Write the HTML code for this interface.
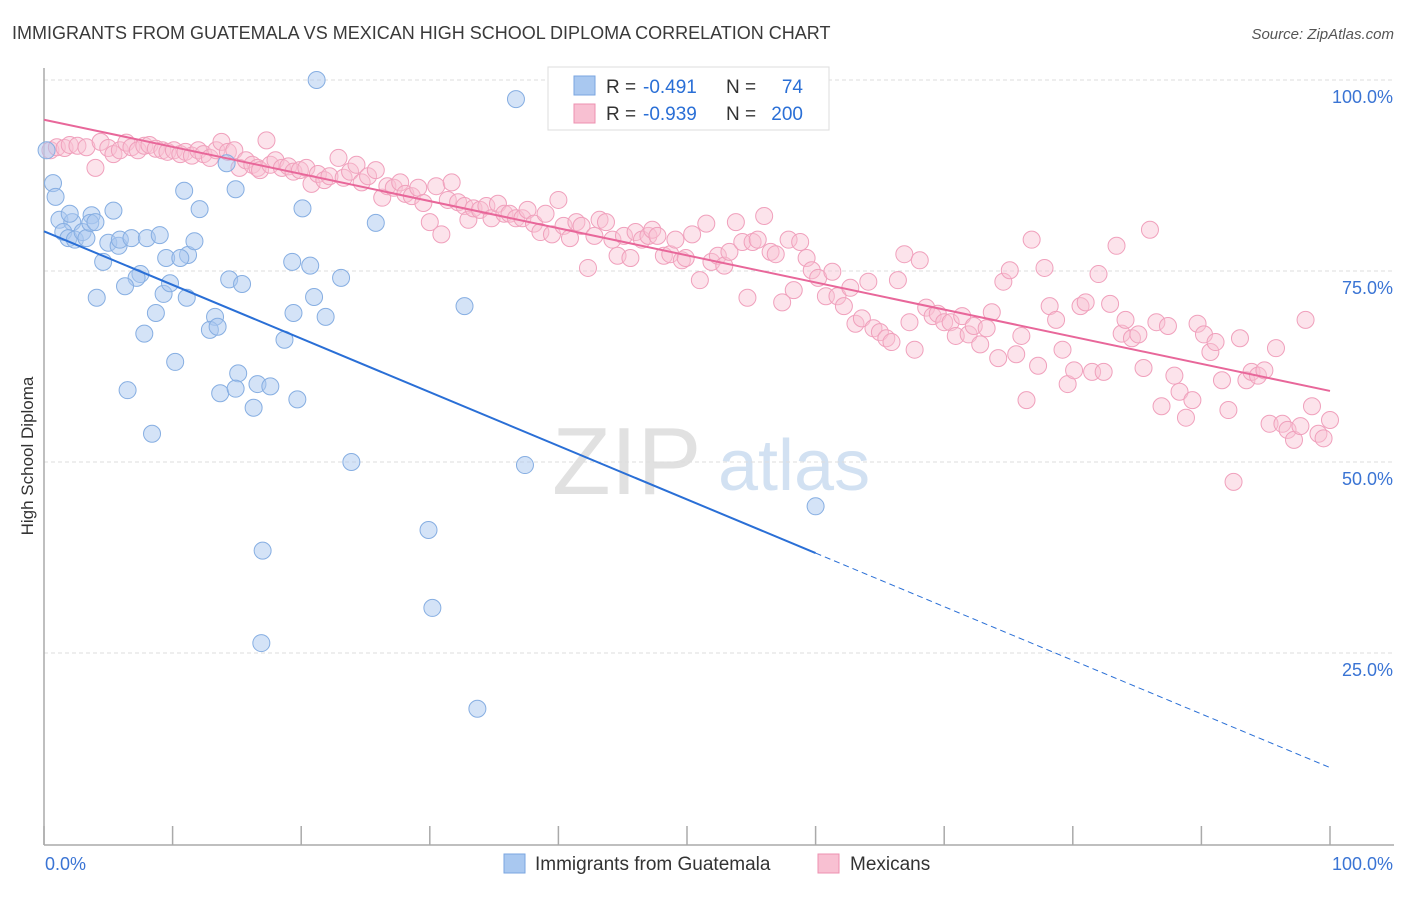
<!DOCTYPE html>
<html><head><meta charset="utf-8">
<style>
body{margin:0;background:#fff;font-family:"Liberation Sans",sans-serif;}
svg text{font-family:"Liberation Sans",sans-serif;}
</style></head>
<body>
<svg id="chart" width="1406" height="892" xmlns="http://www.w3.org/2000/svg">
<text x="12" y="39" font-size="18" fill="#3a3a3a">IMMIGRANTS FROM GUATEMALA VS MEXICAN HIGH SCHOOL DIPLOMA CORRELATION CHART</text>
<text x="1394" y="39" font-size="15" fill="#555" text-anchor="end" font-style="italic">Source: ZipAtlas.com</text>
<g>
<text x="552" y="494" font-size="96" fill="#dcdcdc" font-family="Liberation Serif" opacity="0.85">ZIP</text>
<text x="718" y="490" font-size="72" fill="#c8daf0" opacity="0.8">atlas</text>
</g>
<g id="grid"></g>
<g id="axes"></g>
<g id="pinkDots"></g>
<g id="blueDots"></g>
<g id="lines"></g>
<text transform="translate(33,456) rotate(-90)" font-size="17" fill="#333" text-anchor="middle">High School Diploma</text>
<g>
<rect x="548" y="67" width="281" height="63" fill="#fff" stroke="#ddd"/>
<rect x="574" y="76" width="21" height="19" fill="#a9c8f0" stroke="#7aa6e0"/>
<rect x="574" y="104" width="21" height="19" fill="#f8c0d2" stroke="#ee90b0"/>
<text x="606" y="93" font-size="19" fill="#333">R =</text>
<text x="643" y="93" font-size="19" fill="#2a6fd6">-0.491</text>
<text x="726" y="93" font-size="19" fill="#333">N =</text>
<text x="803" y="93" font-size="19" fill="#2a6fd6" text-anchor="end">74</text>
<text x="606" y="120" font-size="19" fill="#333">R =</text>
<text x="643" y="120" font-size="19" fill="#2a6fd6">-0.939</text>
<text x="726" y="120" font-size="19" fill="#333">N =</text>
<text x="803" y="120" font-size="19" fill="#2a6fd6" text-anchor="end">200</text>
</g>
<g>
<rect x="504" y="854" width="21" height="19" fill="#a9c8f0" stroke="#7aa6e0"/>
<text x="535" y="870" font-size="19" fill="#333">Immigrants from Guatemala</text>
<rect x="818" y="854" width="21" height="19" fill="#f8c0d2" stroke="#ee90b0"/>
<text x="850" y="870" font-size="19" fill="#333">Mexicans</text>
</g>
</svg>
<script>
const yTicks=[25,50,75,100];
const yTickLabels=["25.0%","50.0%","75.0%","100.0%"];
const xTicks=[0,10,20,30,40,50,60,70,80,90,100];
const blueX=[21.2,36.7,0.7,0.9,0.2,1.2,2.2,1.5,1.9,2.4,3.0,3.3,3.7,3.6,5.4,4.6,5.0,5.8,5.9,6.8,8.0,9.0,10.9,12.1,14.2,14.9,11.2,11.7,9.5,10.6,7.5,7.2,6.3,4.1,9.3,8.7,9.8,11.1,13.3,12.9,13.5,14.4,15.4,7.8,10.2,19.3,20.7,20.1,23.1,21.0,19.4,21.9,18.7,25.8,32.7,6.5,8.4,15.1,13.7,14.9,16.6,17.6,16.3,19.7,23.9,37.4,60.0,29.9,17.0,30.2,16.9,33.7,2.0,4.0];
const blueY=[100,97.5,86.5,84.7,90.8,81.7,81.4,80.1,79.3,79.1,80.1,79.3,82.3,81.3,82.9,76.2,78.7,78.3,79.1,79.3,79.3,79.7,85.5,83.1,89.1,85.7,77.1,78.9,76.7,76.7,74.6,74.1,73.0,71.5,72.0,69.5,73.4,71.5,69.0,67.3,67.7,73.9,73.3,66.8,63.1,76.2,75.7,83.2,74.1,71.6,69.5,69.0,66.0,81.3,70.4,59.4,53.7,61.6,59.0,59.6,60.2,59.9,57.1,58.2,50.0,49.6,44.2,41.1,38.4,30.9,26.3,17.7,82.5,81.4];
const pinkX=[0.5,1.0,1.6,2.0,2.6,3.3,4.0,4.4,5.0,5.4,5.9,6.4,6.8,7.3,7.8,8.2,8.7,9.2,9.6,10.1,10.6,11.0,11.5,12.0,12.4,12.9,13.4,13.8,14.3,14.8,15.2,15.7,16.2,16.6,16.8,17.3,17.6,18.0,18.5,19.0,19.4,19.9,20.4,20.8,21.3,21.8,22.2,22.9,23.3,23.8,24.3,24.7,25.2,25.8,26.3,26.7,27.2,27.7,28.1,28.6,29.1,29.5,30.0,30.5,30.9,31.4,31.7,32.2,32.7,33.0,33.4,33.9,34.4,34.8,35.3,35.8,36.2,36.7,37.2,37.6,38.1,38.6,39.0,39.5,40.0,40.4,40.9,41.4,41.8,42.3,42.8,43.2,43.7,44.2,44.6,45.1,45.6,46.0,46.5,47.0,47.3,47.7,48.2,48.7,49.1,49.6,49.9,50.4,51.0,51.5,51.9,52.4,52.9,53.3,53.8,54.3,54.7,55.1,55.5,56.0,56.5,56.9,57.4,57.9,58.3,58.8,59.3,59.7,60.2,60.8,61.3,61.7,62.2,62.7,63.1,63.6,64.1,64.5,65.0,65.5,65.9,66.4,66.9,67.3,67.7,68.1,68.6,69.1,69.5,70.0,70.5,70.9,71.4,71.9,72.3,72.8,73.3,73.7,74.2,74.6,75.1,75.6,76.0,76.4,76.8,77.3,77.8,78.2,78.7,79.2,79.6,80.1,80.6,81.0,81.5,82.0,82.4,82.9,83.4,83.8,84.1,84.6,85.1,85.5,86.0,86.5,86.9,87.4,87.9,88.3,88.8,89.3,89.7,90.2,90.7,91.1,91.6,92.1,92.5,93.0,93.5,93.9,94.4,94.9,95.3,95.8,96.3,96.7,97.2,97.7,98.1,98.6,99.1,99.5,100];
const pinkY=[90.8,91.2,91.1,91.5,91.4,91.2,88.5,91.9,91.1,90.3,90.8,91.8,91.2,90.8,91.4,91.5,91.0,90.8,90.6,90.8,90.3,90.6,90.1,90.8,90.3,89.8,90.8,91.9,90.6,90.8,88.5,89.5,88.9,88.5,88.2,92.1,88.9,89.5,88.5,88.7,88.0,88.2,88.5,86.4,87.7,86.9,87.4,89.8,87.2,88.0,88.9,86.6,87.4,88.2,84.6,86.1,85.9,86.6,85.1,84.8,85.9,83.9,81.4,86.1,79.8,84.3,86.6,84.0,83.5,81.7,83.2,83.0,83.5,81.9,83.8,82.5,82.5,81.9,81.9,83.0,81.2,80.1,82.5,79.8,84.3,80.9,79.3,81.4,80.9,75.4,79.6,81.7,81.4,79.1,77.0,79.6,76.7,80.1,79.1,79.6,80.4,79.6,77.0,77.2,79.1,76.4,76.7,79.8,73.8,81.2,76.2,77.0,75.7,77.5,81.4,78.8,71.5,78.8,79.1,82.2,77.5,77.2,70.9,79.1,72.5,78.8,76.7,75.1,74.1,71.7,74.9,71.7,70.4,72.8,68.1,68.8,73.6,67.5,67.0,66.2,65.7,73.8,77.2,68.3,64.7,76.4,70.2,69.1,69.4,68.3,68.3,66.5,69.1,66.7,67.8,65.4,67.5,69.6,63.6,73.6,75.1,64.1,66.5,58.1,79.1,62.6,75.4,70.4,68.6,64.7,60.2,62.0,70.4,70.9,61.8,74.6,61.8,70.7,78.3,66.8,68.6,66.2,66.7,62.3,80.4,68.3,57.3,67.8,61.3,59.2,55.8,58.1,68.1,66.7,64.4,65.7,60.7,56.8,47.4,66.2,60.7,61.8,61.3,62.0,55.0,64.9,55.0,54.2,52.9,54.7,68.6,57.3,53.7,53.1,55.5];
const blueLine=[80.2,10.0];
const blueSolidEnd=60;
const pinkLine=[94.8,59.3];

const NS="http://www.w3.org/2000/svg";
const X0=44,X1=1330,Y0=844,Y100=80;
function sx(v){return X0+(X1-X0)*v/100;}
function sy(v){return Y0-(Y0-Y100)*v/100;}
function mk(tag,attrs,parent){const e=document.createElementNS(NS,tag);for(const k in attrs)e.setAttribute(k,attrs[k]);document.getElementById(parent).appendChild(e);return e;}

yTicks.forEach((t,i)=>{
  const g=mk('line',{x1:X0,x2:1394,y1:sy(t),y2:sy(t),stroke:'#ddd','stroke-dasharray':'4,3'},'grid');
  
  
  const tx=mk('text',{x:1393,y:sy(t)+23,'font-size':18,fill:'#3a74d4','text-anchor':'end'},'grid');
  tx.textContent=yTickLabels[i];
  
  
});
const ax=mk('line',{x1:X0,x2:X0,y1:68,y2:Y0+1,stroke:'#aaa','stroke-width':1.5},'axes');


const bx=mk('line',{x1:X0,x2:1394,y1:Y0+1,y2:Y0+1,stroke:'#aaa','stroke-width':1.5},'axes');


xTicks.forEach(t=>{
  const l=mk('line',{x1:sx(t),x2:sx(t),y1:826,y2:Y0+1,stroke:'#aaa','stroke-width':1.5},'axes');
  
  
});
const xl0=mk('text',{x:45,y:870,'font-size':18,fill:'#3a74d4'},'axes');xl0.textContent='0.0%';


const xl1=mk('text',{x:1393,y:870,'font-size':18,fill:'#3a74d4','text-anchor':'end'},'axes');xl1.textContent='100.0%';



pinkX.forEach((v,i)=>{
  const c=mk('circle',{cx:sx(v),cy:sy(pinkY[i]),r:8.5,fill:'#f8c0d2','fill-opacity':0.45,stroke:'#f0a0bc','stroke-width':1},'pinkDots');
  
  
});
blueX.forEach((v,i)=>{
  const c=mk('circle',{cx:sx(v),cy:sy(blueY[i]),r:8.5,fill:'#a9c8f0','fill-opacity':0.5,stroke:'#86aee2','stroke-width':1},'blueDots');
  
  
});
function ly(p,x){return p[0]+(p[1]-p[0])*x/100;}
const b1=mk('line',{x1:sx(0),y1:sy(ly(blueLine,0)),x2:sx(blueSolidEnd),y2:sy(ly(blueLine,blueSolidEnd)),stroke:'#2a6fd6','stroke-width':2},'lines');


const b2=mk('line',{x1:sx(blueSolidEnd),y1:sy(ly(blueLine,blueSolidEnd)),x2:sx(100),y2:sy(ly(blueLine,100)),stroke:'#2a6fd6','stroke-width':1,'stroke-dasharray':'6,4'},'lines');


const p1=mk('line',{x1:sx(0),y1:sy(ly(pinkLine,0)),x2:sx(100),y2:sy(ly(pinkLine,100)),stroke:'#e8679a','stroke-width':2},'lines');


</script>
</body></html>
